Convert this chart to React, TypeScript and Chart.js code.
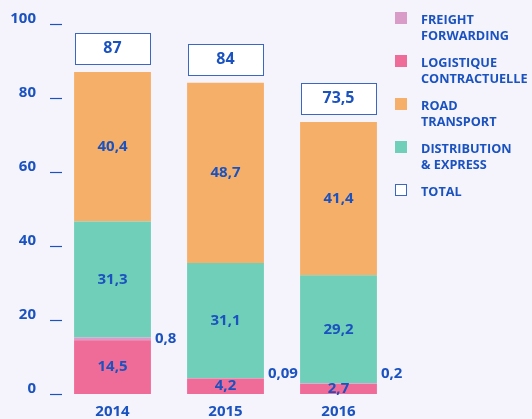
import React, { useEffect, useRef } from "react";
import { Chart, registerables } from "chart.js";

Chart.register(...registerables);

const years = ["2014", "2015", "2016"];
const logistique = [14.5, 4.2, 2.7];
const freight = [0.8, 0.09, 0.2];
const distribution = [31.3, 31.1, 29.2];
const road = [40.4, 48.7, 41.4];
const totals = [87, 84, 73.5];
const yTicks = [0, 20, 40, 60, 80, 100];

const BLUE = "#1a52bf";
const BG = "#f5f4fd";
const FONT = "'Open Sans', sans-serif";

const fmt = (v: number) => String(v).replace(".", ",");

const legendItems = [
  { label: ["FREIGHT", "FORWARDING"], color: "#d99bc7", outline: false },
  { label: ["LOGISTIQUE", "CONTRACTUELLE"], color: "#ef6b98", outline: false },
  { label: ["ROAD", "TRANSPORT"], color: "#f5af69", outline: false },
  { label: ["DISTRIBUTION", "& EXPRESS"], color: "#6fcfb9", outline: false },
  { label: ["TOTAL"], color: "#ffffff", outline: true },
];

export default function App() {
  const ref = useRef<HTMLCanvasElement | null>(null);

  useEffect(() => {
    if (!ref.current) return;
    const labelPlugin = {
      id: "labels",
      afterDatasetsDraw(chart: any) {
        const ctx = chart.ctx;
        const yScale = chart.scales.y;
        const area = chart.chartArea;
        ctx.save();
        ctx.fillStyle = BLUE;
        ctx.font = `700 15px ${FONT}`;
        ctx.textBaseline = "middle";
        chart.data.datasets.forEach((ds: any, di: number) => {
          const meta = chart.getDatasetMeta(di);
          meta.data.forEach((bar: any, i: number) => {
            const v = ds.data[i];
            const top = Math.min(bar.y, bar.base);
            const bot = Math.max(bar.y, bar.base);
            const cy = (top + bot) / 2;
            if (ds.outside) {
              ctx.textAlign = "left";
              ctx.fillText(fmt(v), bar.x + bar.width / 2 + 4, Math.min(cy, area.bottom - 20));
            } else {
              ctx.textAlign = "center";
              ctx.fillText(fmt(v), bar.x, cy);
            }
          });
        });
        // total boxes
        const lastMeta = chart.getDatasetMeta(chart.data.datasets.length - 1);
        totals.forEach((t, i) => {
          const bar: any = lastMeta.data[i];
          const w = 75;
          const h = 31;
          const bottom = yScale.getPixelForValue(t) - 8;
          const x = bar.x - w / 2;
          ctx.fillStyle = "#ffffff";
          ctx.fillRect(x, bottom - h, w, h);
          ctx.strokeStyle = "#3a66c4";
          ctx.lineWidth = 1;
          ctx.strokeRect(Math.round(x) + 0.5, Math.round(bottom - h) + 0.5, w, h);
          ctx.fillStyle = BLUE;
          ctx.font = `700 16px ${FONT}`;
          ctx.textAlign = "center";
          ctx.fillText(fmt(t), bar.x, bottom - h / 2);
        });
        // y tick dashes
        ctx.strokeStyle = BLUE;
        ctx.lineWidth = 1.2;
        yTicks.forEach((v) => {
          const y = Math.round(yScale.getPixelForValue(v)) + 0.5;
          ctx.beginPath();
          ctx.moveTo(area.left - 6, y);
          ctx.lineTo(area.left + 6, y);
          ctx.stroke();
        });
        ctx.restore();
      },
    };

    const mk = (label: string, data: number[], color: string, outside = false) => ({
      label,
      data,
      backgroundColor: color,
      borderWidth: 0,
      barPercentage: 0.68,
      categoryPercentage: 1,
      outside,
    });

    const chart = new Chart(ref.current, {
      type: "bar",
      data: {
        labels: years,
        datasets: [
          mk("LOGISTIQUE CONTRACTUELLE", logistique, "#ef6b98"),
          mk("FREIGHT FORWARDING", freight, "#d99bc7", true),
          mk("DISTRIBUTION & EXPRESS", distribution, "#6fcfb9"),
          mk("ROAD TRANSPORT", road, "#f5af69"),
        ] as any,
      },
      options: {
        animation: false,
        responsive: false,
        layout: { padding: { top: 24, right: 137, left: 0, bottom: 0 } },
        plugins: { legend: { display: false }, tooltip: { enabled: false } },
        scales: {
          x: {
            stacked: true,
            grid: { display: false, drawTicks: false },
            border: { display: false },
            ticks: { color: BLUE, font: { family: FONT, size: 15, weight: "bold" }, padding: 9 },
            afterFit: (s: any) => {
              s.height = 25;
              s.paddingLeft = 0;
              s.paddingRight = 0;
            },
          },
          y: {
            stacked: true,
            min: 0,
            max: 100,
            grid: { display: false, drawTicks: false },
            border: { display: false },
            afterBuildTicks: (s: any) => {
              s.ticks = yTicks.map((v) => ({ value: v }));
            },
            ticks: {
              color: BLUE,
              font: { family: FONT, size: 15, weight: "bold" },
              padding: 20,
              labelOffset: -5,
            },
            afterFit: (s: any) => {
              s.width = 56;
              s.paddingTop = 0;
              s.paddingBottom = 0;
            },
          },
        },
      },
      plugins: [labelPlugin],
    });
    return () => chart.destroy();
  }, []);

  return (
    <div style={{ position: "fixed", left: 0, top: 0, width: 532, height: 419, background: BG, fontFamily: FONT }}>
      <canvas ref={ref} width={532} height={419} style={{ position: "absolute", left: 0, top: 0 }} />
      <div style={{ position: "absolute", left: 395, top: 11, display: "flex", flexDirection: "column", gap: 11 }}>
        {legendItems.map((it) => (
          <div key={it.label.join(" ")} style={{ display: "flex", alignItems: "flex-start" }}>
            <div
              style={{
                width: it.outline ? 10 : 12,
                height: it.outline ? 10 : 12,
                marginTop: 1,
                background: it.color,
                border: it.outline ? "1px solid #3a66c4" : "none",
                flexShrink: 0,
              }}
            />
            <div style={{ marginLeft: 14, color: BLUE, fontWeight: 700, fontSize: 12.7, lineHeight: "16px" }}>
              {it.label.map((l) => (
                <div key={l}>{l}</div>
              ))}
            </div>
          </div>
        ))}
      </div>
    </div>
  );
}
